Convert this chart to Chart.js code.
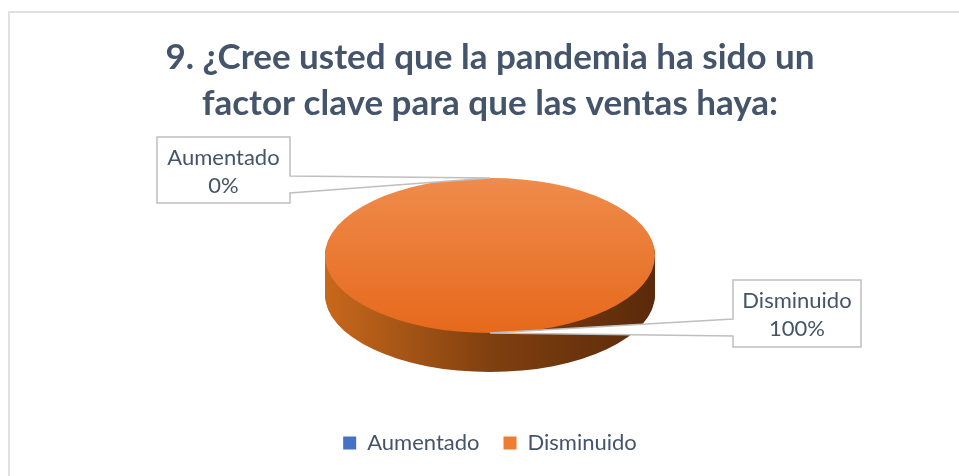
<!DOCTYPE html>
<html>
<head>
<meta charset="utf-8">
<script src="https://cdn.jsdelivr.net/npm/chart.js@4.4.1/dist/chart.umd.min.js"></script>
<style>
  html, body { margin: 0; padding: 0; background: #fff; overflow: hidden; }
  canvas { display: block; }
</style>
</head>
<body>
<canvas id="c" width="959" height="476"></canvas>
<script>
const titleLines = ['9. ¿Cree usted que la pandemia ha sido un', 'factor clave para que las ventas haya:'];
const categories = ['Aumentado', 'Disminuido'];
const values = [0, 100];
const baseColors = ['#4472c4', '#ed7d31'];

const TEXT = '#44546a';
const TILT = 0.47;   // vertical squash of the pie top
const DEPTH = 39;    // thickness of the pie edge in px
// shading for the top face (top -> bottom) and the edge (left -> right)
const topShade = [['#5b85d0', '#3a66b8'], ['#ef8b4b', '#e6691c']];
const sideShade = [['#3d66ae', '#2a4a86', '#1e3560'], ['#c8681c', '#80400f', '#5a2a0b']];
// callout boxes for the data labels
const calloutBoxes = [
  { x: 157, y: 137, w: 133, h: 66 },
  { x: 733, y: 280, w: 128, h: 67 },
];

const pie3d = {
  id: 'pie3d',
  beforeDraw(chart) {
    // the light frame of the chart object
    const ctx = chart.ctx;
    ctx.save();
    ctx.fillStyle = '#dee2e7';
    ctx.fillRect(8, 11, chart.width, 2);
    ctx.fillRect(8, 11, 2, chart.height);
    ctx.restore();
  },
  beforeDatasetsDraw(chart) {
    const ctx = chart.ctx;
    const arcs = chart.getDatasetMeta(0).data;
    const { x: cx, y: cy, outerRadius: r } = arcs[0];

    ctx.save();
    ctx.translate(cx, cy);
    ctx.scale(1, TILT);
    ctx.translate(-cx, -cy);

    // edge: stack the slices downwards, darker, bottom layer first
    const sides = arcs.map((arc, i) => {
      const g = ctx.createLinearGradient(cx - r, 0, cx + r, 0);
      g.addColorStop(0, sideShade[i][0]);
      g.addColorStop(0.5, sideShade[i][1]);
      g.addColorStop(1, sideShade[i][2]);
      return g;
    });
    for (let d = DEPTH; d > 0; d--) {
      arcs.forEach((arc, i) => {
        const bg = arc.options.backgroundColor;
        arc.options.backgroundColor = sides[i];
        ctx.save();
        ctx.translate(0, d / TILT);
        arc.draw(ctx);
        ctx.restore();
        arc.options.backgroundColor = bg;
      });
    }

    // top face gets a soft vertical gradient, the library draws it squashed
    arcs.forEach((arc, i) => {
      const g = ctx.createLinearGradient(0, cy - r, 0, cy + r);
      g.addColorStop(0, topShade[i][0]);
      g.addColorStop(1, topShade[i][1]);
      arc.$bg = arc.options.backgroundColor;
      arc.options.backgroundColor = g;
    });
  },
  afterDatasetsDraw(chart) {
    const ctx = chart.ctx;
    const arcs = chart.getDatasetMeta(0).data;
    arcs.forEach((arc) => { if (arc.$bg) arc.options.backgroundColor = arc.$bg; });
    ctx.restore();

    const total = values.reduce((a, b) => a + b, 0);
    arcs.forEach((arc, i) => {
      const b = calloutBoxes[i];
      if (!b) return;
      const mid = (arc.startAngle + arc.endAngle) / 2;
      const ax = arc.x + arc.outerRadius * Math.cos(mid);
      const ay = arc.y + arc.outerRadius * TILT * Math.sin(mid);
      const t1 = b.y + 39, t2 = b.y + 56;

      ctx.save();
      ctx.beginPath();
      if (ax > b.x + b.w) {
        const xr = b.x + b.w;
        ctx.moveTo(b.x, b.y);
        ctx.lineTo(xr, b.y);
        ctx.lineTo(xr, t1);
        ctx.lineTo(ax, ay);
        ctx.lineTo(xr, t2);
        ctx.lineTo(xr, b.y + b.h);
        ctx.lineTo(b.x, b.y + b.h);
      } else {
        ctx.moveTo(b.x, b.y);
        ctx.lineTo(b.x + b.w, b.y);
        ctx.lineTo(b.x + b.w, b.y + b.h);
        ctx.lineTo(b.x, b.y + b.h);
        ctx.lineTo(b.x, t2);
        ctx.lineTo(ax, ay);
        ctx.lineTo(b.x, t1);
      }
      ctx.closePath();
      ctx.fillStyle = '#fff';
      ctx.fill();
      ctx.strokeStyle = '#bfbfbf';
      ctx.lineWidth = 1.5;
      ctx.stroke();

      ctx.fillStyle = TEXT;
      ctx.font = '22px Lato';
      ctx.textAlign = 'center';
      ctx.textBaseline = 'alphabetic';
      const tx = b.x + b.w / 2;
      ctx.fillText(categories[i], tx, b.y + 28);
      ctx.fillText(Math.round(values[i] / total * 100) + '%', tx, b.y + 56);
      ctx.restore();
    });
  },
};

new Chart(document.getElementById('c'), {
  type: 'pie',
  data: {
    labels: categories,
    datasets: [{
      data: values,
      backgroundColor: baseColors,
      borderWidth: 0,
      hoverOffset: 0,
      radius: 165,
      clip: false,
    }],
  },
  options: {
    responsive: false,
    animation: false,
    devicePixelRatio: 1,
    events: [],
    layout: { padding: { left: 30, right: 9, top: 0, bottom: 12 } },
    plugins: {
      title: {
        display: true,
        text: titleLines,
        color: TEXT,
        font: { family: 'Lato', size: 35, weight: 'bold', lineHeight: 46 / 35 },
        padding: { top: 34.5, bottom: 0 },
      },
      legend: {
        position: 'bottom',
        // an empty legend title just pushes the items down
        title: { display: true, text: ' ', font: { size: 1, lineHeight: 1 }, padding: { top: 22.5, bottom: 0 } },
        labels: {
          color: TEXT,
          font: { family: 'Lato', size: 22 },
          boxWidth: 13,
          boxHeight: 13,
          padding: 24,
        },
      },
      tooltip: { enabled: false },
    },
  },
  plugins: [pie3d],
});
</script>
</body>
</html>
